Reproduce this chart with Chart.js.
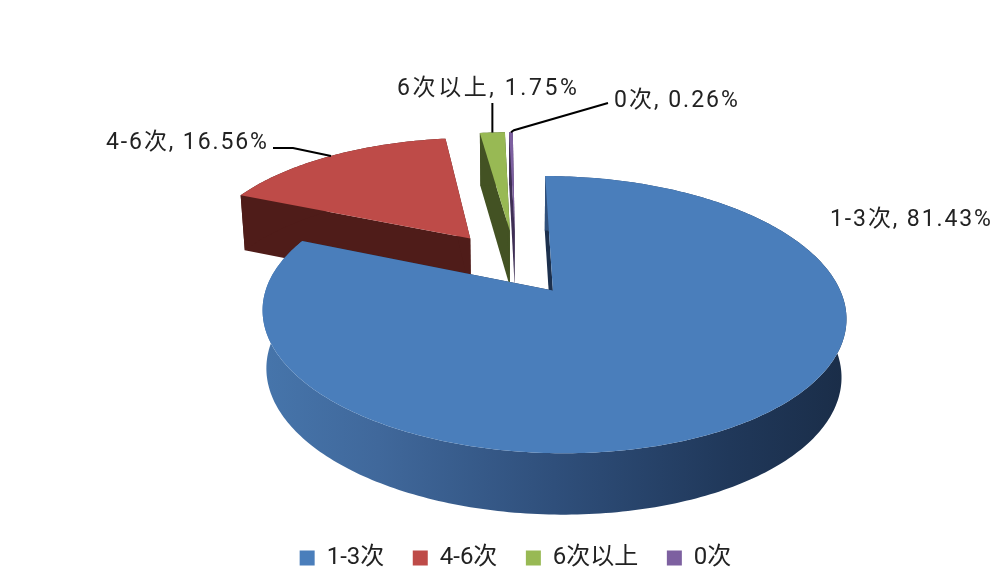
<!DOCTYPE html>
<html><head><meta charset="utf-8">
<style>html,body{margin:0;padding:0;background:#fff}canvas{display:block}</style>
<script src="https://cdn.jsdelivr.net/npm/chart.js@4"></script></head>
<body><canvas id="c" width="1000" height="588"></canvas>
<script>
const categories = ['1-3次','4-6次','6次以上','0次'];
const shares = [81.43,16.56,1.75,0.26];
const explodePct = [23,28,29,29];
const topColors = ['#4a7ebb','#be4b48','#98b954','#7d60a0'];
const wallColors = ['#1c304d','#4f1c19','#435223','#3f2f55'];

// perspective of the tilted disc
const P = {ox:516, oy:265.5, rs:278, k:125.8, s:2.5, p:0.169, h:57};
function proj(u,v,wall){
  const f = 1/(1-P.p*v);
  let x = P.ox+(P.rs*u+P.s*v)*f, y = P.oy+P.k*v*f;
  if(wall){ y += P.h/(1-0.06*v); x = P.ox+(x-P.ox)*0.985; }
  return [x,y];
}
function arcPts(el,wall){
  const d = el.options.offset/100, mid=(el.startAngle+el.endAngle)/2;
  const cu=d*Math.cos(mid), cv=d*Math.sin(mid), pts=[];
  const n=Math.max(3,Math.ceil((el.endAngle-el.startAngle)*60));
  for(let i=0;i<=n;i++){
    const a=el.startAngle+(el.endAngle-el.startAngle)*i/n;
    pts.push(proj(cu+Math.cos(a),cv+Math.sin(a),wall));
  }
  return {apex:proj(cu,cv,wall),pts,cu,cv,mid};
}
function poly(ctx,pts,fill){
  ctx.beginPath();pts.forEach((p,i)=>i?ctx.lineTo(p[0],p[1]):ctx.moveTo(p[0],p[1]));ctx.closePath();
  ctx.fillStyle=fill;ctx.fill();
}
function drawSlice(ctx,el,i){
  const t=arcPts(el,false), b=arcPts(el,true);
  let wall=wallColors[i];
  const last=t.pts.length-1;
  poly(ctx,[t.apex,t.pts[0],b.pts[0],b.apex],wall);
  poly(ctx,[t.apex,t.pts[last],b.pts[last],b.apex],wall);
  if(i===0){
    wall=ctx.createLinearGradient(262,0,846,0);
    wall.addColorStop(0,'#4675ab');
    wall.addColorStop(0.2,'#40689b');
    wall.addColorStop(0.5,'#2f4f7b');
    wall.addColorStop(0.8,'#20385a');
    wall.addColorStop(1,'#1a2d48');
  }
  poly(ctx,t.pts.concat(b.pts.slice().reverse()),wall);
  poly(ctx,[t.apex].concat(t.pts),el.options.backgroundColor);
}
const labelFont='23px Roboto, "Noto Sans CJK SC", sans-serif';
const labelSpots=[
  {x:830,y:220,sp:1.9},
  {x:106,y:143,sp:1.9},
  {x:397,y:89,sp:2.6},
  {x:614,y:101,sp:2}
];
const pie3d={
  id:'pie3d',
  beforeDatasetsDraw(chart){
    const ctx=chart.ctx, arcs=chart.getDatasetMeta(0).data;
    ctx.save();
    [1,2,3,0].forEach(i=>drawSlice(ctx,arcs[i],i));
    // leader lines
    ctx.strokeStyle='#000';ctx.lineWidth=2;
    const r=arcPts(arcs[1],false), g=arcPts(arcs[2],false), v=arcPts(arcs[3],false);
    const edge=(s)=>proj(s.cu+Math.cos(s.mid),s.cv+Math.sin(s.mid),false);
    const line=(pts)=>{ctx.beginPath();pts.forEach((p,i)=>i?ctx.lineTo(p[0],p[1]):ctx.moveTo(p[0],p[1]));ctx.stroke();};
    const er=edge(r), eg=edge(g), ev=edge(v);
    line([er,[293,148],[273,148]]);
    line([[eg[0],eg[1]],[eg[0],103]]);
    line([[ev[0],ev[1]],[ev[0]+3,ev[1]-2],[608,103]]);
    // data labels
    ctx.font=labelFont;ctx.fillStyle='#222';ctx.textBaseline='middle';ctx.textAlign='left';
    categories.forEach((c,i)=>{
      const s=labelSpots[i];
      ctx.letterSpacing=s.sp+'px';
      ctx.fillText(c+', '+shares[i].toFixed(2)+'%',s.x,s.y);
    });
    ctx.letterSpacing='0px';
    ctx.restore();
    return false;
  }
};
new Chart(document.getElementById('c'),{
  type:'pie',
  data:{labels:categories,datasets:[{data:shares,backgroundColor:topColors,offset:explodePct,borderWidth:0}]},
  options:{
    responsive:false,animation:false,
    layout:{padding:{left:31,bottom:8,top:0,right:0}},
    plugins:{
      tooltip:{enabled:false},
      legend:{position:'bottom',labels:{boxWidth:15,boxHeight:15,padding:28.5,color:'#222',
        font:{family:'Roboto, "Noto Sans CJK SC", sans-serif',size:24}}}
    }
  },
  plugins:[pie3d]
});
</script></body></html>
